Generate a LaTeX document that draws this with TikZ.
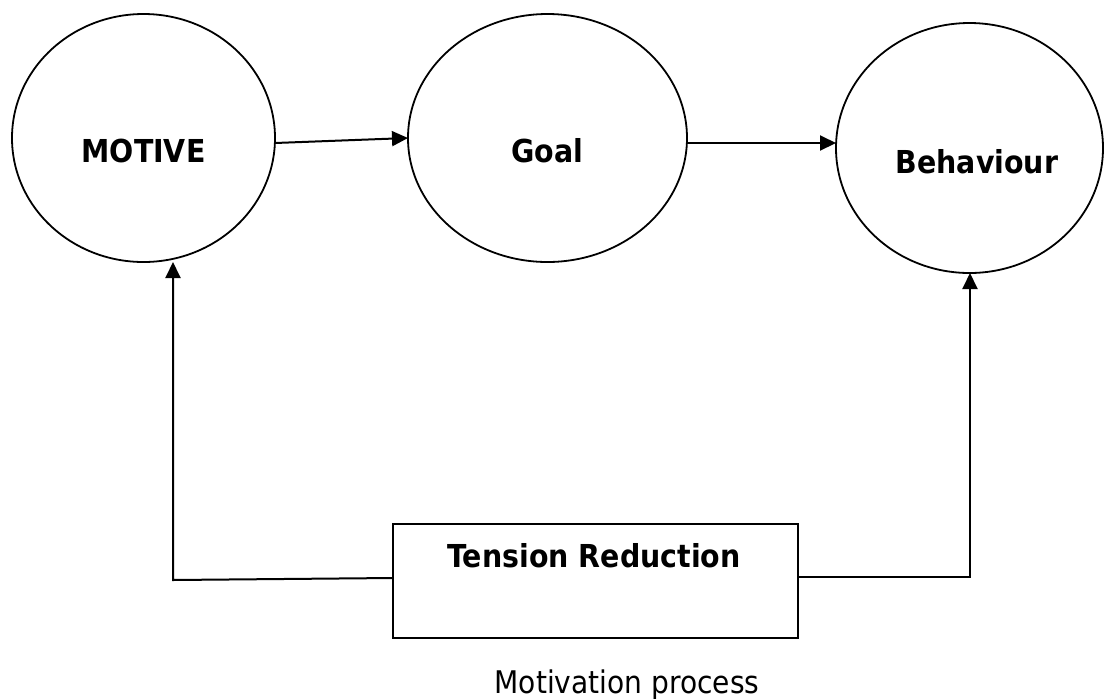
\documentclass[tikz,border=0pt]{standalone}
\usepackage{fontspec}
\newfontfamily\tah{DejaVu Sans}[FakeStretch=0.9]
\usetikzlibrary{shapes.geometric,arrows.meta}
\begin{document}
\begin{tikzpicture}[x=0.5pt,y=-0.5pt,
  oval/.style={draw,ellipse,line width=0.9pt,inner sep=0pt,outer sep=0pt},
  boxnode/.style={draw,rectangle,line width=0.9pt,inner sep=0pt,outer sep=0pt,minimum width=202.5pt,minimum height=57pt},
  lbl/.style={font=\tah\bfseries\fontsize{15.8pt}{18pt}\selectfont,anchor=base,inner sep=0pt},
  captxt/.style={font=\tah\fontsize{15.6pt}{18pt}\selectfont,anchor=base,inner sep=0pt},
  arr/.style={line width=1pt,-{Triangle[length=8pt,width=7.5pt]}}]
\useasboundingbox (0,0) rectangle (1105,698);
\node[oval,minimum width=131.5pt,minimum height=124pt] (m) at (143.5,138) {};
\node[oval,minimum width=139.5pt,minimum height=124pt] (g) at (547.5,138) {};
\node[oval,minimum width=133.5pt,minimum height=125pt] (b) at (969.5,148) {};
\node[boxnode] (t) at (595.5,581) {};
\node[lbl] (mt) at (143.5,162) {MOTIVE};
\node[lbl] (gt) at (547.5,162) {Goal};
\node[lbl] (bt) at (977,173) {Behaviour};
\node[lbl] (tt) at (594,567) {Tension Reduction};
\node[captxt] (cp) at (627,693) {Motivation process};
\coordinate (cl) at (173,580);
\coordinate (cr) at (970,577);
\draw[arr] ([yshift=-2.5pt]m.east) -- (g.west);
\draw[arr] ([yshift=-2.5pt]g.east) -- ([yshift=2.5pt]b.west);
\draw[arr] ([yshift=1.5pt]t.west) -- (cl) -- (m.south -| cl);
\draw[arr] ([yshift=2pt]t.east) -- (cr) -- (b.south -| cr);
\end{tikzpicture}
\end{document}
